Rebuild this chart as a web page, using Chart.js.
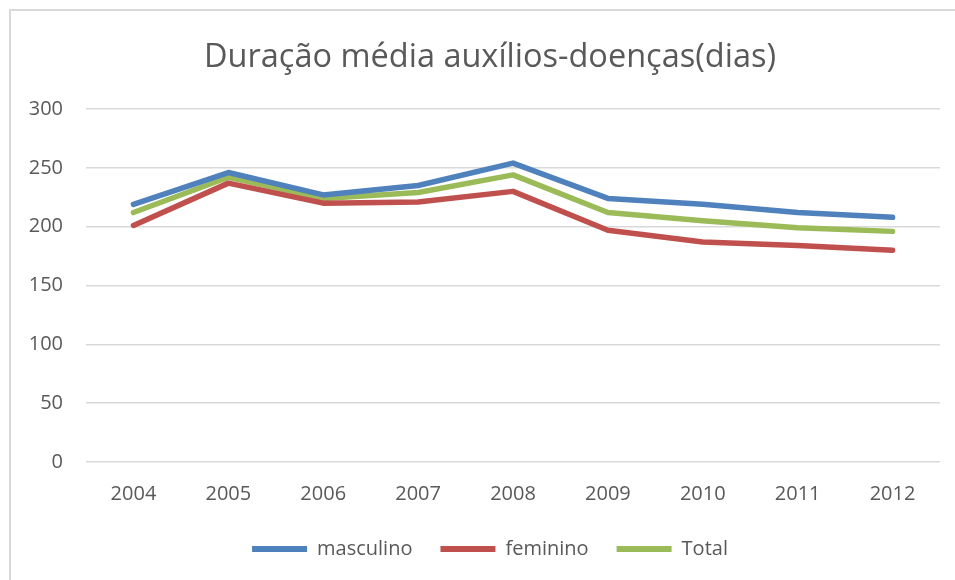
<!DOCTYPE html>
<html>
<head>
<meta charset="utf-8">
<script src="https://cdn.jsdelivr.net/npm/chart.js@4"></script>
<style>
  html, body { margin: 0; padding: 0; background: #fff; }
  #wrap { position: relative; width: 955px; height: 580px; overflow: hidden; }
  #frame { position: absolute; left: 9px; top: 9px; width: 960px; height: 600px;
           border-left: 2px solid #d9d9d9; border-top: 2px solid #d9d9d9; }
  canvas { position: absolute; left: 0; top: 0; }
</style>
</head>
<body>
<div id="wrap">
  <div id="frame"></div>
  <canvas id="chart" width="955" height="580"></canvas>
</div>
<script>
// anos
const anos = ["2004", "2005", "2006", "2007", "2008", "2009", "2010", "2011", "2012"];

// duração média (dias)
const masculino = [219, 246, 227, 235, 254, 224, 219, 212, 208];
const feminino  = [201, 237, 220, 221, 230, 197, 187, 184, 180];
const total     = [212, 242, 224, 229, 244, 212, 205, 199, 196];

const cinza = '#595959';
const fonte = "'Open Sans', 'Noto Sans', sans-serif";

function serie(label, data, cor) {
    return {
        label: label,
        data: data,
        borderColor: cor,
        backgroundColor: cor,
        borderWidth: 5.5,
        borderCapStyle: 'round',
        borderJoinStyle: 'round',
        pointRadius: 0,
        pointHoverRadius: 0,
        tension: 0,
        fill: false
    };
}

new Chart(document.getElementById('chart'), {
    type: 'line',
    data: {
        labels: anos,
        datasets: [
            serie('masculino', masculino, '#4f81bd'),
            serie('feminino', feminino, '#c0504d'),
            serie('Total', total, '#9bbb59')
        ]
    },
    options: {
        responsive: false,
        animation: false,
        // deslocado p/ a direita como no original (titulo e legenda centrados ~490px)
        layout: { padding: { top: 9, right: 0, bottom: 11, left: 25 } },
        plugins: {
            title: {
                display: true,
                text: 'Duração média auxílios-doenças(dias)',
                color: cinza,
                font: { family: fonte, size: 32.5, weight: 'normal' },
                padding: { top: 29, bottom: 32 }
            },
            legend: {
                position: 'bottom',
                labels: {
                    color: cinza,
                    font: { family: fonte, size: 20 },
                    boxWidth: 55,
                    boxHeight: 6,
                    padding: 28,
                    generateLabels: function(chart) {
                        return chart.data.datasets.map((ds, i) => ({
                            text: ds.label,
                            fillStyle: ds.borderColor,
                            strokeStyle: ds.borderColor,
                            lineWidth: 0,
                            fontColor: cinza,
                            datasetIndex: i
                        }));
                    }
                }
            },
            tooltip: { enabled: false }
        },
        scales: {
            x: {
                offset: true,
                grid: { display: false, drawTicks: false },
                border: { display: false },
                ticks: { color: cinza, font: { family: fonte, size: 20 }, padding: 20 },
                // eixo x "invade" a area da legenda para descer o grafico
                afterFit: function(scale) { scale.height -= 15; }
            },
            y: {
                min: 0,
                max: 300,
                grid: { color: '#d9d9d9', lineWidth: 1.5, drawTicks: false },
                border: { display: false },
                ticks: { stepSize: 50, color: cinza, font: { family: fonte, size: 20 }, padding: 23 },
                afterFit: function(scale) { scale.width = 61; }
            },
            // eixo vazio so para a margem direita
            margem: {
                position: 'right',
                grid: { display: false, drawTicks: false },
                border: { display: false },
                ticks: { display: false },
                afterFit: function(scale) { scale.width = 15; }
            }
        }
    }
});
</script>
</body>
</html>
